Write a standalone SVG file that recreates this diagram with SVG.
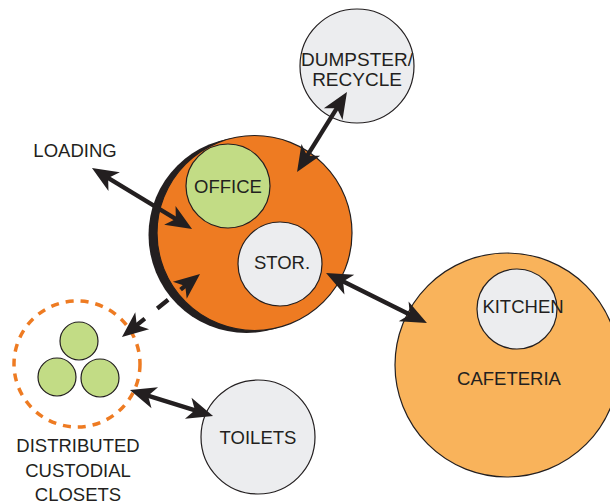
<svg xmlns="http://www.w3.org/2000/svg" width="610" height="504" viewBox="0 0 610 504">
<defs>
<style>
.lbl{font-family:"Liberation Sans",Arial,sans-serif;font-size:18.5px;fill:#231F20;text-anchor:middle}
.ln{stroke:#231F20;stroke-width:1.2}
.gray{fill:#ECEDEF}
.green{fill:#C2DC85}
.arr{stroke:#231F20;stroke-width:4.3;fill:none;marker-start:url(#ah);marker-end:url(#ah)}
</style>
<marker id="ah" markerUnits="userSpaceOnUse" viewBox="-16 -12 30 24" refX="0" refY="0" markerWidth="30" markerHeight="24" orient="auto-start-reverse">
<path d="M12,0 L-14,-11 L-7,0 L-14,11 Z" fill="#231F20"/>
</marker>
</defs>
<rect width="610" height="504" fill="#FFFFFF"/>

<g id="cafeteria">
<circle cx="507" cy="365" r="112" fill="#F9B35B" class="ln"/>
<text class="lbl" x="509" y="385">CAFETERIA</text>
</g>
<g id="kitchen">
<circle cx="517" cy="309" r="40" class="gray ln"/>
<text class="lbl" x="523" y="313">KITCHEN</text>
</g>

<g id="main">
<circle cx="246.5" cy="235" r="98" fill="#231F20"/>
<circle cx="254.5" cy="233" r="97.5" fill="#EE7B22" class="ln"/>
</g>
<g id="office">
<circle cx="228" cy="186" r="42" class="green ln"/>
<text class="lbl" x="228" y="193">OFFICE</text>
</g>
<g id="stor">
<circle cx="280" cy="264" r="42" class="gray ln"/>
<text class="lbl" x="282" y="269">STOR.</text>
</g>

<g id="dumpster">
<circle cx="357" cy="66" r="57" class="gray ln"/>
<text class="lbl" x="357" y="66" style="font-size:19px">DUMPSTER/</text>
<text class="lbl" x="357" y="86" style="font-size:19px">RECYCLE</text>
</g>

<g id="loading">
<text class="lbl" x="75" y="157">LOADING</text>
</g>

<g id="toilets">
<circle cx="258" cy="437" r="57" class="gray ln"/>
<text class="lbl" x="258" y="444">TOILETS</text>
</g>

<g id="closets">
<circle cx="77" cy="364" r="63" fill="none" stroke="#EE7B22" stroke-width="3.5" stroke-dasharray="8 7"/>
<circle cx="79" cy="341" r="19" class="green ln"/>
<circle cx="57" cy="377" r="19" class="green ln"/>
<circle cx="100" cy="378" r="19" class="green ln"/>
<text class="lbl" x="78" y="452">DISTRIBUTED</text>
<text class="lbl" x="78" y="477">CUSTODIAL</text>
<text class="lbl" x="78" y="501">CLOSETS</text>
</g>

<g id="connectors">
<line class="arr" x1="102.2" y1="174.3" x2="181.8" y2="222.7"/>
<line class="arr" x1="340.6" y1="102.2" x2="303.4" y2="161.8"/>
<line class="arr" x1="336.8" y1="278.3" x2="416.2" y2="317.7"/>
<line class="arr" x1="190.7" y1="281.5" x2="131.3" y2="329.5" stroke-dasharray="13 16 14 16 30"/>
<line class="arr" x1="141.4" y1="393.6" x2="201.6" y2="412.4"/>
</g>
</svg>
